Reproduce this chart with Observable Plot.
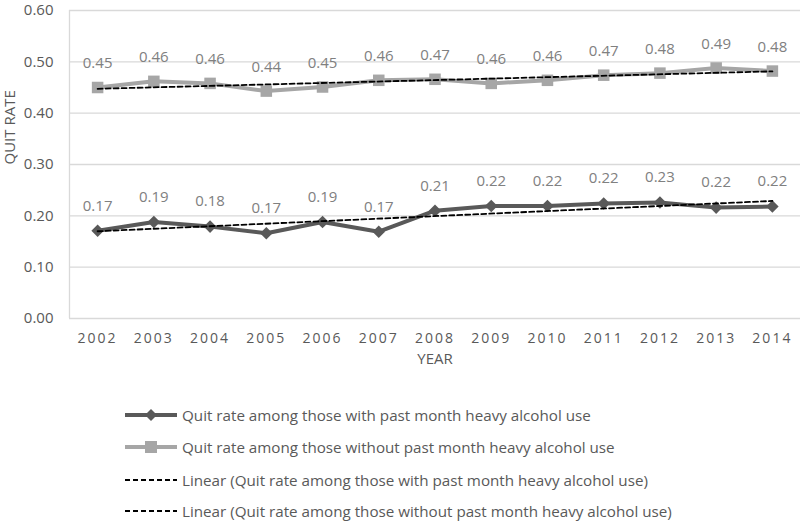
<!DOCTYPE html>
<html>
<head>
<meta charset="utf-8">
<script src="https://cdn.jsdelivr.net/npm/d3@7"></script>
<script src="https://cdn.jsdelivr.net/npm/@observablehq/plot@0.6"></script>
<style>
  html, body { margin: 0; padding: 0; background: #fff; }
  body { width: 800px; font-family: "Open Sans", sans-serif; }
  #chart svg { display: block; }
  [aria-label="x-axis tick label"] text { letter-spacing: 2px; }
  #legend { position: relative; height: 146px; }
  .item { position: absolute; left: 125px; height: 20px; display: flex; align-items: center; color: #595959; font-size: 15.2px; white-space: nowrap; }
  .item svg { margin-right: 5px; }
</style>
</head>
<body>
<div id="chart"></div>
<div id="legend"></div>
<script>
const years = [2002, 2003, 2004, 2005, 2006, 2007, 2008, 2009, 2010, 2011, 2012, 2013, 2014];
const withAlcohol = [0.171, 0.188, 0.179, 0.166, 0.188, 0.169, 0.210, 0.219, 0.219, 0.224, 0.226, 0.216, 0.218];
const withoutAlcohol = [0.450, 0.462, 0.458, 0.443, 0.451, 0.464, 0.466, 0.458, 0.464, 0.474, 0.478, 0.488, 0.482];
const yTicks = [0, 0.1, 0.2, 0.3, 0.4, 0.5, 0.6];
const seriesNames = [
  "Quit rate among those with past month heavy alcohol use",
  "Quit rate among those without past month heavy alcohol use",
  "Linear (Quit rate among those with past month heavy alcohol use)",
  "Linear (Quit rate among those without past month heavy alcohol use)"
];

const darkColor = "#595959";
const lightColor = "#a6a6a6";
const labelColor = "#808080";

const withData = years.map((year, i) => ({year, value: withAlcohol[i]}));
const withoutData = years.map((year, i) => ({year, value: withoutAlcohol[i]}));

const diamond = {
  draw(context, size) {
    const h = Math.sqrt(size / 2);
    context.moveTo(0, -h);
    context.lineTo(h, 0);
    context.lineTo(0, h);
    context.lineTo(-h, 0);
    context.closePath();
  }
};

const chart = Plot.plot({
  width: 800,
  height: 375,
  marginLeft: 69,
  marginRight: 0,
  marginTop: 10,
  marginBottom: 57,
  style: {fontFamily: "Open Sans, sans-serif", background: "#fff"},
  x: {domain: [years[0] - 0.5, years[years.length - 1] + 0.5]},
  y: {domain: [0, 0.6]},
  marks: [
    Plot.gridY(yTicks, {stroke: "#d9d9d9", strokeOpacity: 1, strokeWidth: 1.3}),
    Plot.ruleX([years[0] - 0.5], {stroke: "#d9d9d9", strokeWidth: 1.3}),
    Plot.axisY(yTicks, {tickSize: 0, tickPadding: 16, tickFormat: d3.format(".2f"), fontSize: 15, fill: darkColor, label: null}),
    Plot.axisX(years, {tickSize: 0, tickPadding: 15, tickFormat: d => String(d), fontSize: 14, fill: darkColor, label: null}),
    Plot.text(["QUIT RATE"], {frameAnchor: "left", dx: -59, rotate: -90, fontSize: 15, fill: darkColor}),
    Plot.text(["YEAR"], {frameAnchor: "bottom", dy: 45, fontSize: 15, fill: darkColor}),
    Plot.line(withoutData, {x: "year", y: "value", stroke: lightColor, strokeWidth: 4}),
    Plot.dot(withoutData, {x: "year", y: "value", symbol: "square", r: 6.5, fill: lightColor, stroke: "none"}),
    Plot.line(withData, {x: "year", y: "value", stroke: darkColor, strokeWidth: 4}),
    Plot.dot(withData, {x: "year", y: "value", symbol: diamond, r: 5, fill: darkColor, stroke: "none"}),
    Plot.linearRegressionY(withData, {x: "year", y: "value", stroke: "#000", strokeWidth: 1.8, strokeDasharray: "5,3", ci: 0}),
    Plot.linearRegressionY(withoutData, {x: "year", y: "value", stroke: "#000", strokeWidth: 1.8, strokeDasharray: "5,3", ci: 0}),
    Plot.text(withoutData, {x: "year", y: "value", text: d => d3.format(".2f")(d.value), dy: -24, fontSize: 15, fill: labelColor}),
    Plot.text(withData, {x: "year", y: "value", text: d => d3.format(".2f")(d.value), dy: -25, fontSize: 15, fill: labelColor})
  ]
});
document.getElementById("chart").appendChild(chart);

// Legend
const legend = document.getElementById("legend");
const swatches = [
  `<line x1="0" y1="10" x2="52" y2="10" stroke="${darkColor}" stroke-width="4"/><path d="M26,4 L32,10 L26,16 L20,10 Z" fill="${darkColor}"/>`,
  `<line x1="0" y1="10" x2="52" y2="10" stroke="${lightColor}" stroke-width="4"/><rect x="20" y="4" width="12" height="12" fill="${lightColor}"/>`,
  `<line x1="0" y1="10" x2="52" y2="10" stroke="#000" stroke-width="1.8" stroke-dasharray="5,3"/>`,
  `<line x1="0" y1="10" x2="52" y2="10" stroke="#000" stroke-width="1.8" stroke-dasharray="5,3"/>`
];
const rowCenters = [40, 72, 105, 136];
seriesNames.forEach((name, i) => {
  const div = document.createElement("div");
  div.className = "item";
  div.style.top = (rowCenters[i] - 10) + "px";
  div.innerHTML = `<svg width="52" height="20">${swatches[i]}</svg><span>${name}</span>`;
  legend.appendChild(div);
});
</script>
</body>
</html>
